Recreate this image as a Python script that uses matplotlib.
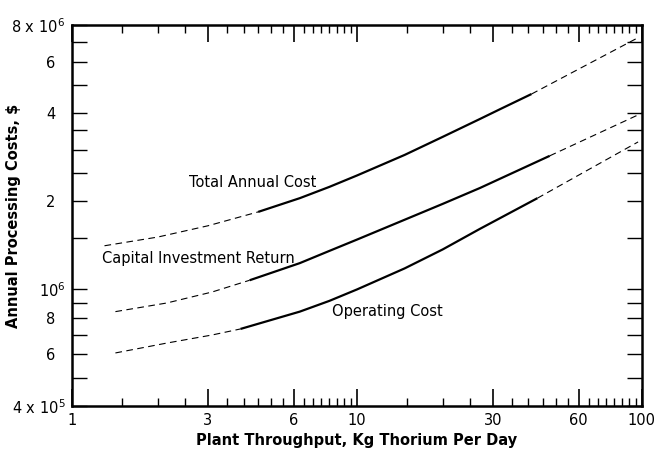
import matplotlib
matplotlib.use('Agg')
import matplotlib.pyplot as plt
import matplotlib.transforms as mtransforms
import numpy as np

plt.rcParams['font.family'] = 'DejaVu Sans'
plt.rcParams['mathtext.fontset'] = 'dejavusans'

# values (kg Th/day, $ per year)
total_x = [1.3, 2.0, 3.0, 4.5, 6.3, 8.0, 10, 14.7, 20, 27, 32, 41, 98]
total_y = [1.41e6, 1.51e6, 1.65e6, 1.84e6, 2.05e6, 2.24e6, 2.45e6, 2.88e6, 3.32e6,
           3.82e6, 4.14e6, 4.65e6, 7.28e6]
total_solid = (3, 11)

capital_x = [1.42, 2.15, 3.1, 4.2, 6.3, 8.0, 10, 14.7, 20, 27, 47.5, 100]
capital_y = [8.4e5, 8.99e5, 9.8e5, 1.075e6, 1.23e6, 1.354e6, 1.48e6, 1.73e6, 1.96e6,
             2.22e6, 2.86e6, 4.0e6]
capital_solid = (3, 10)

oper_x = [1.42, 2.15, 3.1, 3.9, 6.3, 8.0, 10, 14.7, 20, 27, 43, 97]
oper_y = [6.07e5, 6.56e5, 6.99e5, 7.33e5, 8.4e5, 9.14e5, 1.0e6, 1.18e6, 1.37e6,
          1.61e6, 2.05e6, 3.19e6]
oper_solid = (3, 10)

xtick_vals = [1, 3, 6, 10, 30, 60, 100]
xtick_text = ['1', '3', '6', '10', '30', '60', '100']
ytick_vals = [4e5, 6e5, 8e5, 1e6, 2e6, 4e6, 6e6, 8e6]
ytick_text = [r'4 x 10$^5$', '6', '8', r'10$^6$', '2', '4', '6', r'8 x 10$^6$']

fig = plt.figure(figsize=(6.59, 4.49), dpi=100)
ax = fig.add_axes([0.1093, 0.0958, 0.8647, 0.8485])
ax.set_xscale('log')
ax.set_yscale('log')
ax.set_xlim(1, 100)
ax.set_ylim(4e5, 8e6)


def draw(x, y, solid):
    i0, i1 = solid
    ax.plot(x[:i0 + 1], y[:i0 + 1], color='black', lw=0.8, ls=(0, (6, 4)))
    ax.plot(x[i0:i1 + 1], y[i0:i1 + 1], color='black', lw=1.6, solid_capstyle='butt')
    ax.plot(x[i1:], y[i1:], color='black', lw=0.8, ls=(0, (6, 4)))


draw(total_x, total_y, total_solid)
draw(capital_x, capital_y, capital_solid)
draw(oper_x, oper_y, oper_solid)

ax.text(2.57, 2.31e6, 'Total Annual Cost', fontsize=10.5, va='center', ha='left')
ax.text(1.27, 1.28e6, 'Capital Investment Return', fontsize=10.5, va='center', ha='left')
ax.text(8.2, 8.44e5, 'Operating Cost', fontsize=10.5, va='center', ha='left')

# log-paper style ticks
long_x = [k * 10 ** n for n in (0, 1) for k in range(2, 10)]
short_x = [(k + 0.5) * 10 ** n for n in (0, 1) for k in range(1, 10)]
ax.set_xticks(long_x + short_x, minor=True)
ax.set_xticks(xtick_vals)
ax.set_xticklabels(xtick_text)
ax.xaxis.set_minor_formatter(matplotlib.ticker.NullFormatter())

minor_y = [5e5, 7e5, 9e5, 1.5e6, 2.5e6, 3e6, 3.5e6, 5e6, 7e6]
ax.set_yticks(minor_y, minor=True)
ax.set_yticks(ytick_vals)
ax.set_yticklabels(ytick_text)
ax.yaxis.set_minor_formatter(matplotlib.ticker.NullFormatter())

ax.tick_params(axis='x', which='major', direction='in', length=12, width=1.2,
               top=True, bottom=True, labelsize=10.5, pad=5)
ax.tick_params(axis='x', which='minor', direction='in', length=6, width=1.0,
               top=True, bottom=True)
ax.tick_params(axis='y', which='both', direction='in', length=11, width=1.0,
               left=True, right=True, labelsize=10.5, pad=12)

# the power-of-ten labels sit closer to the axis in the original
shift = mtransforms.ScaledTranslation(10 / 100, 0, fig.dpi_scale_trans)
for lbl in ax.get_yticklabels():
    if '10' in lbl.get_text():
        lbl.set_transform(lbl.get_transform() + shift)

for s in ax.spines.values():
    s.set_linewidth(1.8)

ax.set_xlabel('Plant Throughput, Kg Thorium Per Day', fontsize=10.5, fontweight='bold')
ax.xaxis.set_label_coords(0.5, -0.072)
ax.set_ylabel('Annual Processing Costs, $', fontsize=10.5, fontweight='bold')
ax.yaxis.set_label_coords(-0.089, 0.5)

fig.savefig('out.png', dpi=100)
